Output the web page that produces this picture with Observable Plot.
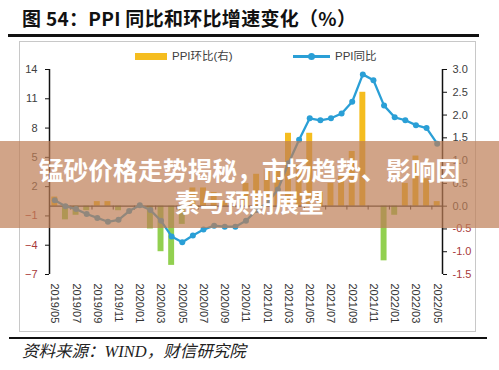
<!DOCTYPE html>
<html><head><meta charset="utf-8">
<script src="https://cdn.jsdelivr.net/npm/d3@7"></script>
<script src="https://cdn.jsdelivr.net/npm/@observablehq/plot@0.6"></script>
<style>
body{margin:0;width:499px;height:370px;overflow:hidden;background:#fff;position:relative;font-family:"Noto Sans CJK SC",sans-serif}
#title{position:absolute;left:22px;top:5px;font-size:19px;font-weight:bold;color:#111;white-space:nowrap;line-height:26px;letter-spacing:0.3px}
#rule1{position:absolute;left:8px;top:34px;width:471px;height:2.5px;background:#111}
#box{position:absolute;left:19px;top:41px;width:457px;height:291px;border:1.5px solid #c8c8c8;box-sizing:border-box}
#chart{position:absolute;left:0;top:40px}
#rule2{position:absolute;left:9px;top:337px;width:478px;height:2px;background:#111}
#caption{position:absolute;left:22px;top:341px;font-size:16.5px;font-style:italic;color:#222;font-family:"Liberation Serif","Noto Sans CJK SC",serif;white-space:nowrap;line-height:22px}
.lg{position:absolute;font-family:"Liberation Sans","Noto Sans CJK SC",sans-serif;font-size:11.5px;color:#404040;line-height:14px;white-space:nowrap}
#banner{position:absolute;left:0;top:141px;width:499px;height:87px;background:rgba(190,125,85,0.7);display:flex;align-items:center;justify-content:center;text-align:center;color:#fff;font-weight:bold;font-size:24.8px;line-height:32px;font-family:"Noto Sans CJK SC",sans-serif}
</style>
</head><body>
<div id="title">图 54：PPI 同比和环比增速变化（%）</div>
<div id="rule1"></div>
<div id="box"></div>
<div id="chart"></div>
<div class="lg" style="left:135px;top:53px;width:32px;height:6.5px;background:#F5BD1F"></div>
<div class="lg" style="left:172px;top:49px">PPI环比(右)</div>
<div class="lg" style="left:293px;top:55px;width:37px;height:2.5px;background:#2A9FD6"></div>
<div class="lg" style="left:308px;top:53px;width:7px;height:7px;border-radius:50%;background:#2A9FD6"></div>
<div class="lg" style="left:335px;top:49px">PPI同比</div>
<div id="rule2"></div>
<div id="caption">资料来源：WIND，财信研究院</div>
<div id="banner"><div>锰砂价格走势揭秘，市场趋势、影响因<br>素与预期展望</div></div>
<script>
const months = ["2019/05","2019/06","2019/07","2019/08","2019/09","2019/10","2019/11","2019/12",
"2020/01","2020/02","2020/03","2020/04","2020/05","2020/06","2020/07","2020/08","2020/09","2020/10","2020/11","2020/12",
"2021/01","2021/02","2021/03","2021/04","2021/05","2021/06","2021/07","2021/08","2021/09","2021/10","2021/11","2021/12",
"2022/01","2022/02","2022/03","2022/04","2022/05"];
// PPI 同比 (left axis, %)
const yoy = [0.6,0.0,-0.3,-0.8,-1.2,-1.6,-1.4,-0.5,
0.1,-0.4,-1.5,-3.1,-3.7,-3.0,-2.4,-2.0,-2.1,-2.1,-1.5,-0.4,
0.3,1.7,4.4,6.8,9.0,8.8,9.0,9.5,10.7,13.5,12.9,10.3,
9.1,8.8,8.3,8.0,6.4];
// PPI 环比 (right axis, %)
const mom = [0.2,-0.3,-0.2,-0.1,0.1,0.1,-0.1,0.0,
0.0,-0.5,-1.0,-1.3,-0.4,0.4,0.4,0.3,0.1,0.0,0.5,0.7,
0.8,0.8,1.6,0.9,1.6,0.3,0.5,0.7,1.2,2.5,0.0,-1.2,
-0.2,0.5,1.1,0.6,0.1];
const leftPosTicks = [2,5,8,11,14];
const leftNegTicks = [-1,-4,-7];
const rightPosTicks = [0,0.5,1.0,1.5,2.0,2.5,3.0];
const rightNegTicks = [-0.5,-1.0,-1.5];
const labelEvery = 2;

const k = 14/3; // right-axis unit -> left-axis unit (zeros aligned)
const rows = months.map((m,i)=>({i, m, yoy: yoy[i], mom: mom[i]}));
const labelIdx = months.map((m,i)=>i).filter(i=>i%labelEvery===0);
const zeroTickIdx = labelIdx.slice(1).map(i=>i-0.5);

const blue = "#2A9FD6";
const chart = Plot.plot({
  width: 499, height: 295,
  marginLeft: 49, marginRight: 57, marginTop: 29, marginBottom: 61,
  x: {domain: [-0.5, 36.5], axis: null, label: null},
  y: {domain: [-7, 14], axis: null, label: null},
  style: {fontFamily: "'Liberation Sans', sans-serif", fontSize: "11px", color: "#404040", background: "transparent", overflow: "visible"},
  marks: [
    Plot.rectY(rows, {x1: d => d.i - 0.28, x2: d => d.i + 0.28, y1: 0, y2: d => d.mom * k,
      fill: d => d.mom >= 0 ? "#F5BD1F" : "#92D050"}),
    Plot.ruleY([0], {stroke: "#222", strokeWidth: 1.3}),
    Plot.ruleX(zeroTickIdx, {y1: 0, y2: -0.4, stroke: "#222"}),
    Plot.ruleX([-0.5, 36.5], {y1: -7, y2: 14, stroke: "#111", strokeWidth: 1.5}),
    Plot.lineY(rows, {x: "i", y: "yoy", stroke: blue, strokeWidth: 2.3}),
    Plot.dot(rows, {x: "i", y: "yoy", r: 3, fill: blue}),
    Plot.axisY(leftPosTicks, {anchor: "left", label: null, tickSize: 4, tickPadding: 8, color: "#404040", stroke: "#111"}),
    Plot.axisY(leftNegTicks, {anchor: "left", label: null, tickSize: 4, tickPadding: 8, color: "#A83A3A", stroke: "#111"}),
    Plot.axisY(rightPosTicks.map(v => v*k), {anchor: "right", label: null, tickSize: 4, tickPadding: 6, color: "#404040", stroke: "#111", tickFormat: d => (d/k).toFixed(1)}),
    Plot.axisY(rightNegTicks.map(v => v*k), {anchor: "right", label: null, tickSize: 4, tickPadding: 6, color: "#A83A3A", stroke: "#111", tickFormat: d => (d/k).toFixed(1)}),
    Plot.axisX(labelIdx, {anchor: "bottom", label: null, tickSize: 0, tickPadding: 9, tickRotate: 90, textAnchor: "start", tickFormat: i => months[i], color: "#333"})
  ]
});
document.getElementById("chart").appendChild(chart);
</script>
</body></html>
